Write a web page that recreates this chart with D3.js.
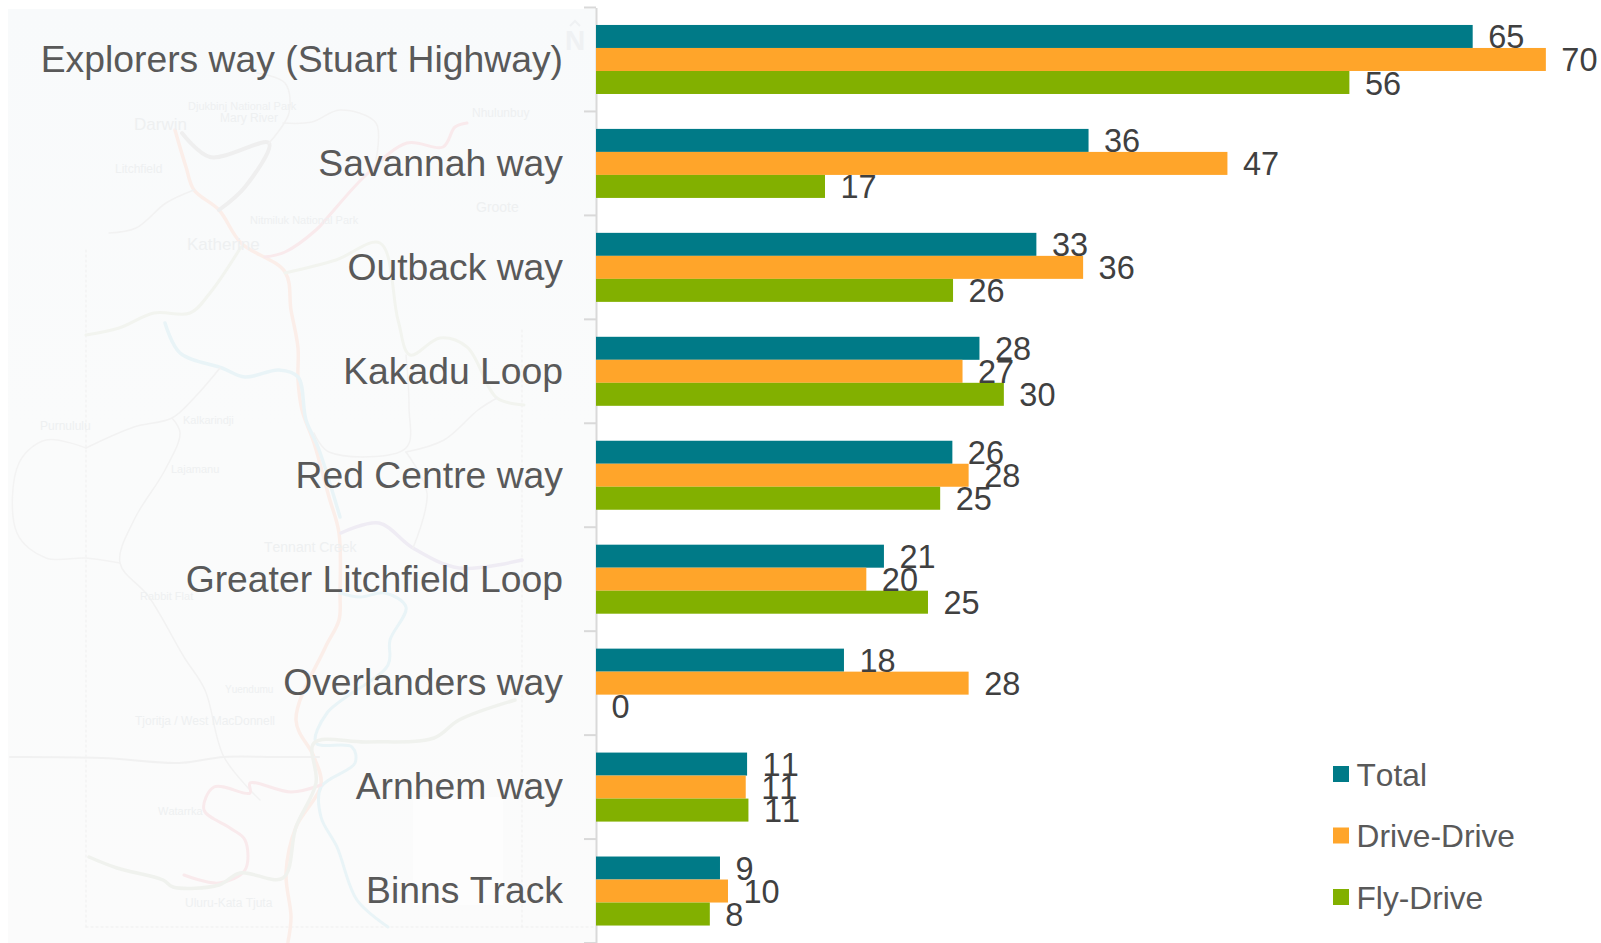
<!DOCTYPE html>
<html><head><meta charset="utf-8">
<script src="https://cdnjs.cloudflare.com/ajax/libs/d3/7.8.5/d3.min.js"></script>
<style>html,body{margin:0;padding:0;background:#fff;overflow:hidden}svg{display:block}text{font-family:"Liberation Sans",Arial,sans-serif;font-kerning:none}</style>
</head><body><svg id="c" width="1601" height="943"></svg>
<script>
const categories=["Explorers way (Stuart Highway)","Savannah way","Outback way","Kakadu Loop","Red Centre way","Greater Litchfield Loop","Overlanders way","Arnhem way","Binns Track"];
const seriesNames=["Total","Drive-Drive","Fly-Drive"];
const seriesColors=["#007A87","#FFA52A","#82B000"];
const total=[64.7,36.35,32.5,28.3,26.3,21.25,18.3,11.15,9.15];
const driveDrive=[70.1,46.6,35.95,27.05,27.5,19.95,27.5,11.05,9.74];
const flyDrive=[55.6,16.9,26.35,30.1,25.4,24.5,0,11.25,8.4];
const seriesValues=[total,driveDrive,flyDrive];

// Decorative pale map behind the category labels (a picture in the reference, not data)
const mapRoads=[
 {c:"#fbeee9",w:3.5,p:[[175,130],[186,167],[194,190],[219,210],[241,243],[285,272],[291,310],[298,348],[298,380],[302,410],[314,443],[329,497],[339,533],[340,593],[339,620],[325,648],[296,720],[314,757],[321,785],[296,827],[286,873],[291,917],[288,942]]},
 {c:"#e9f4f7",w:3.5,p:[[165,323],[180,353],[222,368],[245,377],[279,370],[298,377],[306,420],[318,447],[340,517]]},
 {c:"#e9f4f7",w:3,p:[[340,593],[360,597],[385,593],[406,607],[390,640],[388,665],[327,713],[316,743],[352,747],[355,763],[321,787],[321,817],[337,847],[357,900],[388,927]]},
 {c:"#f2f4ef",w:3,p:[[241,247],[210,293],[190,313],[154,313],[119,328],[86,335]]},
 {c:"#f2f4ef",w:3,p:[[285,273],[336,260],[380,243],[398,320],[410,355],[440,338],[467,347],[497,398],[524,405]]},
 {c:"#efefef",w:4,p:[[182,133],[210,157],[269,143],[245,187],[219,210]]},
 {c:"#f9eaec",w:3,p:[[265,257],[285,252],[316,230],[328,217],[364,177],[407,143],[443,147],[455,127],[467,123]]},
 {c:"#efecf4",w:3.5,p:[[341,533],[379,523],[413,548],[459,568],[522,560]]},
 {c:"#f2f2f2",w:1.5,p:[[283,123],[312,122],[340,110],[376,123],[376,160]]},
 {c:"#f2f2f2",w:1.5,p:[[257,73],[285,83],[289,113],[269,143]]},
 {c:"#f2f2f2",w:1.5,p:[[109,233],[136,228],[166,203],[194,190]]},
 {c:"#f2f2f2",w:1.5,p:[[220,368],[195,397],[172,418],[134,427],[86,448]]},
 {c:"#f2f2f2",w:1.5,p:[[172,418],[180,433],[165,470],[134,520],[120,563],[149,597],[184,657],[205,690],[224,757],[260,800]]},
 {c:"#f3f3f3",w:1.5,p:[[120,563],[86,558],[46,558],[17,533],[19,463],[46,440],[86,448]]},
 {c:"#f2f2f2",w:1.5,p:[[314,433],[329,452],[406,448],[409,407],[406,355]]},
 {c:"#f2f2f2",w:1.5,p:[[406,452],[444,440],[478,410],[497,398]]},
 {c:"#f2f2f2",w:1.5,p:[[406,452],[427,493],[413,548]]},
 {c:"#f1f1f1",w:2,p:[[10,757],[102,758],[179,763],[224,757],[275,757],[319,757]]},
 {c:"#f9eaec",w:3,p:[[321,785],[291,792],[250,783],[250,793],[214,787],[204,810],[230,828],[245,840],[245,870],[219,883],[184,875]]},
 {c:"#f0f2ee",w:3.5,p:[[89,857],[117,868],[163,880],[173,887],[219,885],[240,873],[283,878],[296,827],[316,783],[314,743],[367,742],[434,738],[459,720],[515,700]]}
];
const mapBorders=[[[86,250],[86,927]],[[86,927],[596,927]],[[522,330],[522,927]]];
const mapLabels=[["Darwin",134,130,17],["Katherine",187,250,17],["Litchfield",115,173,12],["Mary River",220,122,12],["Djukbinj National Park",188,110,11],["Nhulunbuy",472,117,12],["Groote",476,212,14],["Nitmiluk National Park",250,224,11],["Purnululu",40,430,12],["Kalkarindji",183,424,11],["Lajamanu",171,473,11],["Tennant Creek",264,552,14],["Rabbit Flat",140,600,11],["Yuendumu",225,693,10],["Tjoritja / West MacDonnell",135,725,12],["Watarrka",158,815,11],["Uluru-Kata Tjuta",185,907,12]];

const svg=d3.select("#c");
const defs=svg.append("defs");
const g=defs.append("linearGradient").attr("id","bg").attr("x1",0).attr("y1",0).attr("x2",0).attr("y2",1);
g.append("stop").attr("offset",0).attr("stop-color","#f8fafb");
g.append("stop").attr("offset",.45).attr("stop-color","#fafbfb");
g.append("stop").attr("offset",1).attr("stop-color","#fbfbfb");
svg.append("rect").attr("x",8).attr("y",9).attr("width",588).attr("height",934).attr("fill","url(#bg)");
svg.append("rect").attr("x",413).attr("y",797).attr("width",90).attr("height",108).attr("fill","#fdfdfd");
const borderLine=d3.line();
const roadLine=d3.line().curve(d3.curveCatmullRom.alpha(.5));
const map=svg.append("g").attr("fill","none").attr("stroke-linejoin","round").attr("stroke-linecap","round");
map.selectAll("path.b").data(mapBorders).join("path").attr("class","b").attr("d",borderLine).attr("stroke","#efefef").attr("stroke-width",1).attr("stroke-dasharray","2 3");
map.selectAll("path.r").data(mapRoads).join("path").attr("class","r").attr("d",r=>roadLine(r.p)).attr("stroke",r=>r.c).attr("stroke-width",r=>r.w);
svg.append("g").selectAll("text").data(mapLabels).join("text").attr("x",d=>d[1]).attr("y",d=>d[2]).attr("font-size",d=>d[3]).attr("fill","#eef0f1").style("font-family",'"Liberation Sans Narrow","Liberation Sans",sans-serif').text(d=>d[0]);
// north arrow
svg.append("text").attr("x",575).attr("y",50).attr("text-anchor","middle").attr("font-size",28).attr("font-weight","bold").attr("fill","#eff1f3").text("N");
svg.append("path").attr("d",d3.line()([[570,26],[575,21],[580,26]])).attr("fill","none").attr("stroke","#eff1f3").attr("stroke-width",2);

const x=d3.scaleLinear().domain([0,70]).range([596,596+70*13.55]);
const y=d3.scaleBand().domain(categories).range([7.5,943]).paddingInner(.336).paddingOuter(.168);
const y1=d3.scaleBand().domain(seriesNames).range([0,y.bandwidth()]);

// category axis
const axis=svg.append("g").attr("transform","translate(596,0)").call(d3.axisLeft(y).tickSize(0).tickPadding(33));
axis.select(".domain").attr("stroke","#d9d9d9").attr("stroke-width",2);
axis.selectAll("text").attr("font-size",37.3).attr("fill","#595959").attr("dy",".33em").attr("font-family",'"Liberation Sans",Arial,sans-serif');
// ticks between categories
const boundaries=d3.range(categories.length+1).map(i=>y.range()[0]+i*y.step());
svg.append("g").selectAll("line").data(boundaries).join("line").attr("x1",584).attr("x2",596).attr("y1",d=>d).attr("y2",d=>d).attr("stroke","#d9d9d9").attr("stroke-width",2);

const groups=svg.append("g").selectAll("g").data(seriesNames).join("g").attr("fill",(d,i)=>seriesColors[i]);
groups.selectAll("rect").data((s,i)=>seriesValues[i].map((v,j)=>({s,v,c:categories[j]}))).join("rect")
 .attr("x",x(0)).attr("y",d=>y(d.c)+y1(d.s)).attr("width",d=>x(d.v)-x(0)).attr("height",y1.bandwidth());
const labels=svg.append("g").selectAll("g").data(seriesNames).join("g");
labels.selectAll("text").data((s,i)=>seriesValues[i].map((v,j)=>({s,v,c:categories[j]}))).join("text")
 .attr("x",d=>x(d.v)+15.5).attr("y",d=>y(d.c)+y1(d.s)+y1.bandwidth()/2).attr("dy",".37em")
 .attr("font-size",32.5).attr("fill","#404040").text(d=>d3.format(".0f")(d.v));

// legend
const legendY=d3.scalePoint().domain(seriesNames).range([774,897]);
const leg=svg.append("g").selectAll("g").data(seriesNames).join("g").attr("transform",d=>`translate(1333,${legendY(d)})`);
leg.append("rect").attr("y",-8).attr("width",16).attr("height",16).attr("fill",(d,i)=>seriesColors[i]);
leg.append("text").attr("x",23.5).attr("y",11.5).attr("font-size",31.7).attr("fill","#595959").text(d=>d);
</script></body></html>
